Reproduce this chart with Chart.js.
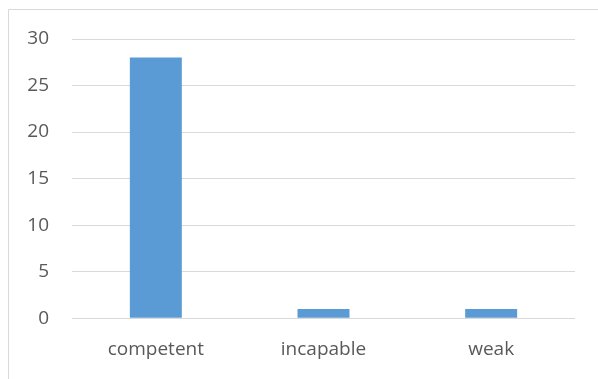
<!DOCTYPE html>
<html lang="en">
<head>
  <meta charset="UTF-8">
  <title>Chart</title>
  <style>
    html, body { margin: 0; padding: 0; background: #fff; }
    #wrap { width: 598px; height: 379px; position: relative; }
  </style>
  <script src="https://cdn.jsdelivr.net/npm/chart.js"></script>
</head>
<body>
  <div id="wrap"><canvas id="chart" width="598" height="379"></canvas></div>
  <script>
    const categories = ['competent', 'incapable', 'weak'];
    const counts = [28, 1, 1];
    const yTicks = [0, 5, 10, 15, 20, 25, 30];

    // light frame on the left and top, like the original export
    const frame = {
      id: 'frame',
      beforeDraw(chart) {
        const c = chart.ctx;
        c.save();
        c.strokeStyle = '#d9d9d9';
        c.lineWidth = 1;
        c.beginPath();
        c.moveTo(8.5, 379);
        c.lineTo(8.5, 9.5);
        c.lineTo(598, 9.5);
        c.stroke();
        c.restore();
      }
    };

    new Chart(document.getElementById('chart'), {
      type: 'bar',
      data: {
        labels: categories,
        datasets: [{
          data: counts,
          backgroundColor: '#5b9bd5',
          categoryPercentage: 1,
          barPercentage: 0.31
        }]
      },
      options: {
        responsive: false,
        animation: false,
        layout: { padding: { top: 39, right: 23, bottom: -2, left: 0 } },
        plugins: { legend: { display: false }, tooltip: { enabled: false } },
        scales: {
          x: {
            grid: { display: false, drawTicks: false },
            border: { display: false },
            ticks: { color: '#595959', font: { family: 'Open Sans', size: 19 }, padding: 20 }
          },
          y: {
            min: 0,
            max: 30,
            afterFit(scale) { scale.width = 72; },
            afterBuildTicks(scale) { scale.ticks = yTicks.map(v => ({ value: v })); },
            grid: { color: '#d9d9d9', lineWidth: 1, drawTicks: false },
            border: { display: false },
            ticks: { color: '#595959', font: { family: 'Open Sans', size: 19 }, padding: 23 }
          }
        }
      },
      plugins: [frame]
    });
  </script>
</body>
</html>
